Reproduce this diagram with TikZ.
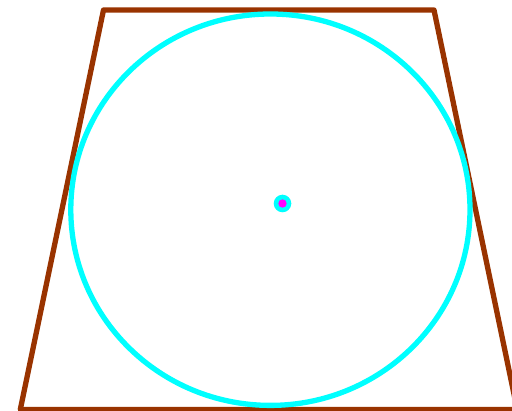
\documentclass[tikz,border=0pt]{standalone}
\definecolor{brownline}{RGB}{153,51,0}
\definecolor{cyanline}{RGB}{0,255,255}
\definecolor{magentadot}{RGB}{255,0,255}
\begin{document}
\begin{tikzpicture}[x=1pt,y=-1pt,
  trap/.style={draw=brownline,line width=5.3pt,line join=round},
  circ/.style={draw=cyanline,line width=5.3pt},
  ctr/.style={fill=cyanline},
  ctrin/.style={fill=magentadot}]
\useasboundingbox (0,0) rectangle (512,411);
\clip (0,0) rectangle (512,411);
\coordinate (tl) at (103.5,10);
\coordinate (tr) at (434,10);
\coordinate (br) at (517.2,409.5);
\coordinate (bl) at (20.3,409.5);
\draw[trap] (tl) -- (tr) -- (br) -- (bl) -- cycle;
\coordinate (o) at (270.4,209.7);
\draw[circ] (o) ellipse [x radius=199.6, y radius=195.7];
\coordinate (p) at (282.5,203.5);
\fill[ctr] (p) circle (8.8);
\fill[ctrin] (p) circle (4.2);
\end{tikzpicture}
\end{document}
